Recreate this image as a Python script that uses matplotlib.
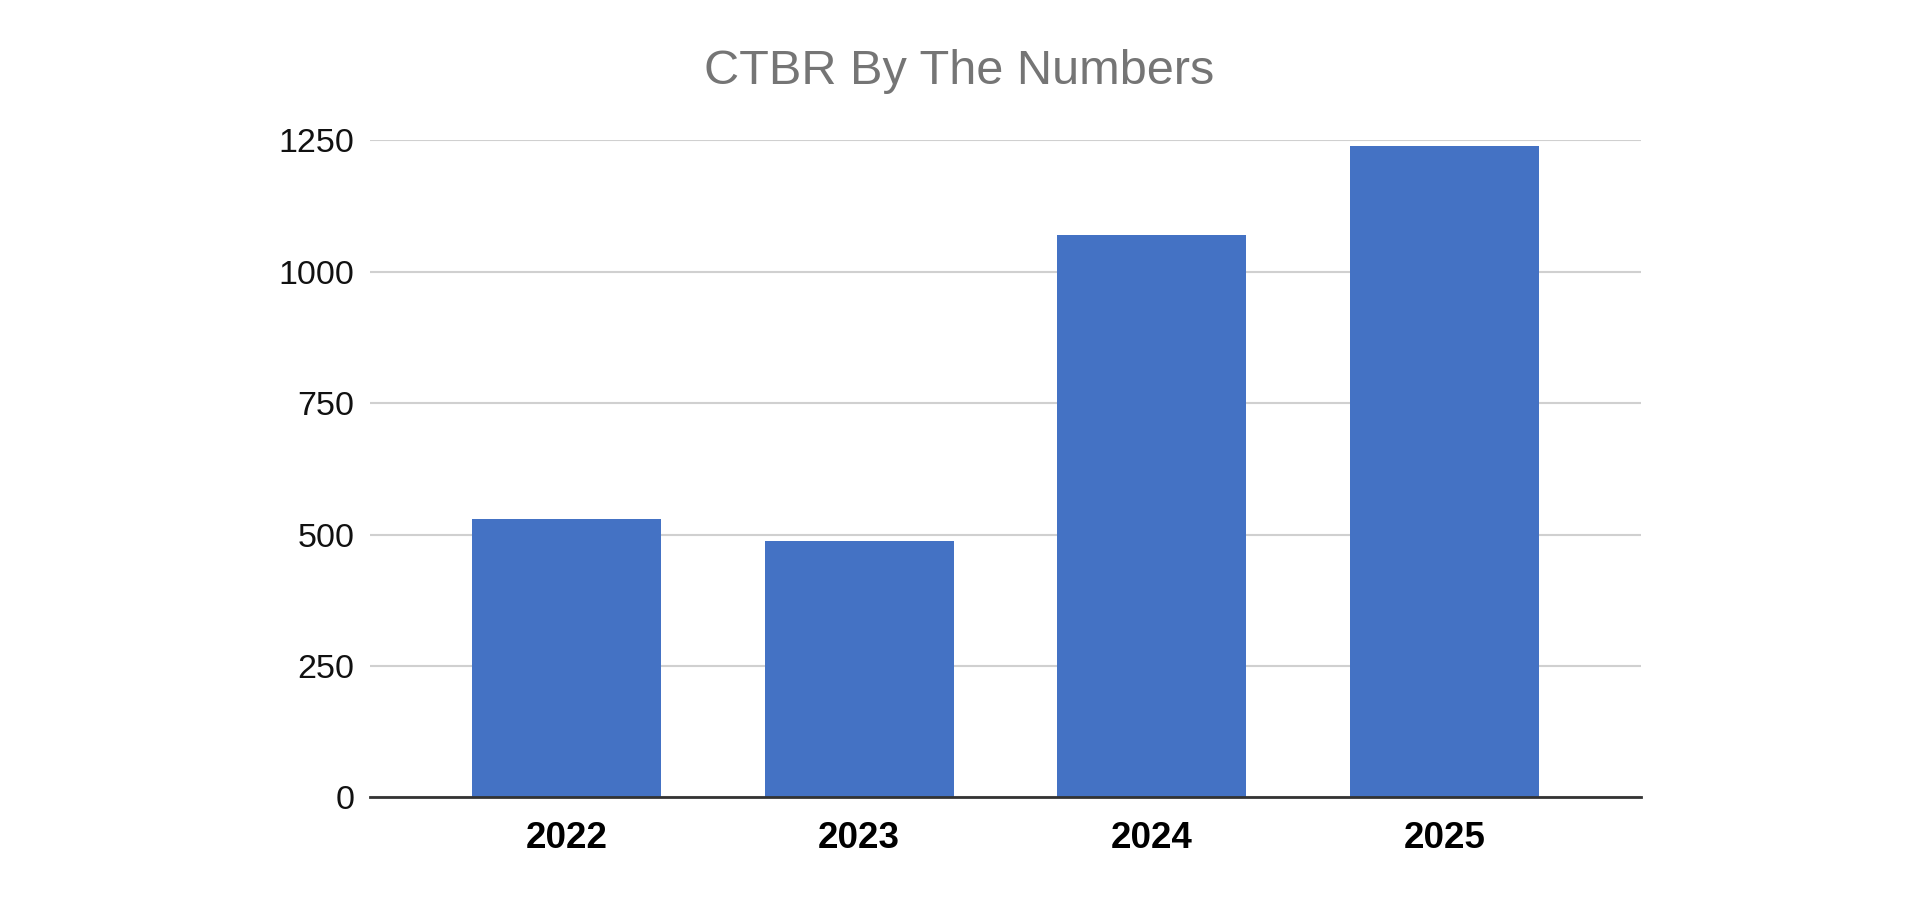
import matplotlib
matplotlib.use("Agg")
import matplotlib.pyplot as plt

# data
years = ["2022", "2023", "2024", "2025"]
counts = [529, 488, 1070, 1240]
yticks = [0, 250, 500, 750, 1000, 1250]

plt.rcParams['font.family'] = ['Liberation Sans', 'DejaVu Sans']

fig = plt.figure(figsize=(19.2, 9), dpi=100)
ax = fig.add_axes([0.1927, 0.1142, 0.662, 0.7297])

x = range(len(years))
ax.bar(x, counts, width=0.645, color='#4472C4', linewidth=0, zorder=3)

ax.set_xlim(-0.672, len(years) - 1 + 0.672)
ax.set_ylim(0, 1250)
ax.set_yticks(yticks)
ax.set_yticklabels([str(t) for t in yticks], fontsize=24.5, color='#111111')
ax.set_xticks(list(x))
ax.set_xticklabels(years, fontsize=26.5, fontweight='bold', color='#000000')
ax.tick_params(axis='y', length=0, pad=11)
ax.tick_params(axis='x', length=0, pad=17)

ax.grid(axis='y', color='#d0d0d0', linewidth=1.5, zorder=0)
for side in ['top', 'right', 'left']:
    ax.spines[side].set_visible(False)
ax.spines['bottom'].set_color('#333333')
ax.spines['bottom'].set_linewidth(2)
ax.spines['bottom'].set_zorder(4)

fig.text(0.4995, 0.921, "CTBR By The Numbers", ha='center', va='center',
         fontsize=35, color='#757575')

fig.savefig("out.png", dpi=100, facecolor='white')
